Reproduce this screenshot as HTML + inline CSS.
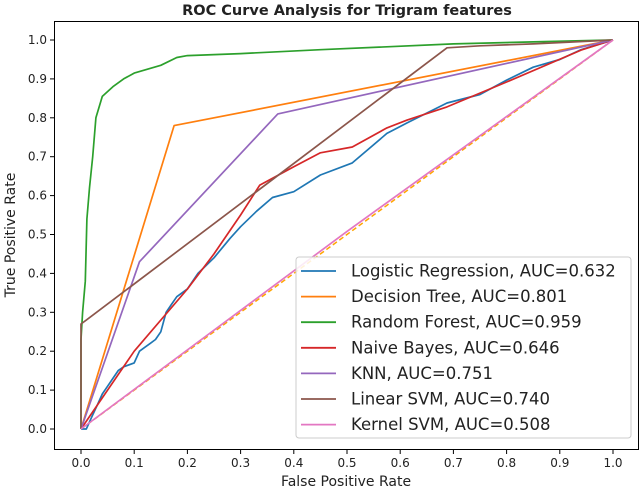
<!DOCTYPE html>
<html><head><meta charset="utf-8"><style>
body{margin:0;background:#fff}
svg text{font-family:"DejaVu Sans","Liberation Sans",sans-serif;fill:#222}
</style></head><body>
<svg id="chart" width="640" height="489" xmlns="http://www.w3.org/2000/svg"></svg>
<script>
const names=["Logistic Regression","Decision Tree","Random Forest","Naive Bayes","KNN","Linear SVM","Kernel SVM"];
const aucs=["0.632","0.801","0.959","0.646","0.751","0.740","0.508"];
const colors=["#1f77b4","#ff7f0e","#2ca02c","#d62728","#9467bd","#8c564b","#e377c2"];
const lrFpr=[0,0.01,0.02,0.03,0.04,0.05,0.06,0.07,0.08,0.1,0.11,0.12,0.13,0.14,0.15,0.16,0.17,0.18,0.2,0.22,0.25,0.28,0.3,0.33,0.36,0.4,0.45,0.51,0.575,0.613,0.688,0.75,0.8,0.85,0.9,0.94,1];
const lrTpr=[0,0,0.03,0.06,0.09,0.11,0.13,0.15,0.16,0.17,0.2,0.21,0.22,0.23,0.25,0.3,0.32,0.34,0.36,0.4,0.44,0.49,0.52,0.56,0.595,0.61,0.653,0.684,0.76,0.787,0.838,0.86,0.897,0.93,0.95,0.975,1];
const dtFpr=[0,0.175,1];
const dtTpr=[0,0.78,1];
const rfFpr=[0,0,0.003,0.008,0.011,0.016,0.022,0.028,0.04,0.06,0.08,0.1,0.15,0.18,0.2,0.3,0.45,0.7,0.85,1];
const rfTpr=[0,0.23,0.3,0.38,0.54,0.62,0.7,0.8,0.855,0.88,0.9,0.915,0.935,0.955,0.96,0.965,0.975,0.99,0.995,1];
const nbFpr=[0,0.1,0.2,0.25,0.3,0.336,0.4,0.45,0.51,0.575,0.613,0.688,0.8,0.94,1];
const nbTpr=[0,0.2,0.36,0.45,0.55,0.627,0.674,0.71,0.725,0.774,0.794,0.828,0.892,0.974,1];
const knnFpr=[0,0.11,0.37,1];
const knnTpr=[0,0.43,0.81,1];
const lsFpr=[0,0,0.01,0.688,0.75,0.85,1];
const lsTpr=[0,0.27,0.28,0.98,0.985,0.99,1];
const ksFpr=[0,0.5,1];
const ksTpr=[0,0.508,1];
const xTicks=[0,0.1,0.2,0.3,0.4,0.5,0.6,0.7,0.8,0.9,1.0];
const yTicks=[0,0.1,0.2,0.3,0.4,0.5,0.6,0.7,0.8,0.9,1.0];
const series=[[lrFpr,lrTpr],[dtFpr,dtTpr],[rfFpr,rfTpr],[nbFpr,nbTpr],[knnFpr,knnTpr],[lsFpr,lsTpr],[ksFpr,ksTpr]];

const svg=document.getElementById('chart');
const NS="http://www.w3.org/2000/svg";
const X0=81,X1=613,Y0=429,Y1=40;
const sx=v=>X0+(X1-X0)*v, sy=v=>Y0-(Y0-Y1)*v;
function mk(t,a,p){const e=document.createElementNS(NS,t);for(const k in a)e.setAttribute(k,a[k]);(p||svg).appendChild(e);return e;}

const title=mk('text',{x:347,y:15,'text-anchor':'middle','font-size':14.5,'font-weight':'bold'});
title.textContent="ROC Curve Analysis for Trigram features";



const frame=mk('rect',{x:54.5,y:21.5,width:584,height:428,fill:'none',stroke:'#000','stroke-width':1});



xTicks.forEach(v=>{
  mk('line',{x1:sx(v),x2:sx(v),y1:450,y2:454,stroke:'#000'});
  const t=mk('text',{x:sx(v),y:467,'text-anchor':'middle','font-size':12});
  t.textContent=v.toFixed(1);
  
  
});
yTicks.forEach(v=>{
  mk('line',{x1:50,x2:54,y1:sy(v),y2:sy(v),stroke:'#000'});
  const t=mk('text',{x:47,y:sy(v)+4,'text-anchor':'end','font-size':12});
  t.textContent=v.toFixed(1);
  
  
});
const xl=mk('text',{x:346,y:486,'text-anchor':'middle','font-size':14});
xl.textContent="False Positive Rate";


const yl=mk('text',{x:15,y:235,'text-anchor':'middle','font-size':14,transform:'rotate(-90 15 235)'});
yl.textContent="True Positive Rate";



const diag=mk('line',{x1:sx(0),y1:sy(0),x2:sx(1),y2:sy(1),stroke:'#ffa500','stroke-width':1.5,'stroke-dasharray':'5,3'});



series.forEach((s,i)=>{
  const pts=s[0].map((x,j)=>sx(x).toFixed(1)+','+sy(s[1][j]).toFixed(1)).join(' ');
  const pl=mk('polyline',{points:pts,fill:'none',stroke:colors[i],'stroke-width':1.7,'stroke-linejoin':'round'});
  
  
});

const lg=mk('g',{});


mk('rect',{x:296,y:257,width:335,height:181,rx:3,fill:'#fff','fill-opacity':0.85,stroke:'#ccc'},lg);
names.forEach((n,i)=>{
  const y=271+i*25.6;
  mk('line',{x1:301,x2:336,y1:y,y2:y,stroke:colors[i],'stroke-width':1.8},lg);
  const t=mk('text',{x:351,y:y+5.5,'font-size':16.5},lg);
  t.textContent=n+", AUC="+aucs[i];
  
  
});
</script>
</body></html>
